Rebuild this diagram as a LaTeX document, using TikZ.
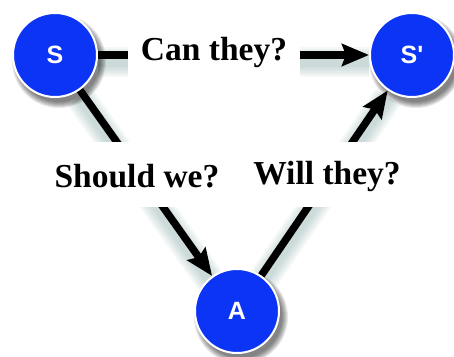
\documentclass[tikz,border=0pt]{standalone}
\usepackage{fontspec}
\setmainfont{Liberation Serif}
\newfontfamily\vertexfont{Liberation Sans}[Ligatures=ResetAll]
\usetikzlibrary{arrows.meta}
\definecolor{nodeblue}{RGB}{12,52,245}
\definecolor{shadeteal}{RGB}{110,150,148}
\pgfdeclarelayer{lineshade}
\pgfdeclarelayer{edges}
\pgfdeclarelayer{boxes}
\pgfdeclarelayer{nodeshade}
\pgfsetlayers{lineshade,edges,boxes,nodeshade,main}
\begin{document}
\begin{tikzpicture}[x=1pt,y=-1pt,
  vertex/.style={circle, fill=nodeblue, draw=white, line width=2pt,
    minimum size=84pt, inner sep=0pt, text=white,
    font=\vertexfont\bfseries\fontsize{25}{25}\selectfont},
  edge/.style={line width=7.5pt, draw=black},
  tip/.style={-{Stealth[length=27pt,width=22pt,inset=4pt]}},
  labelbox/.style={fill=white, inner sep=0pt},
  question/.style={font=\bfseries\fontsize{33.5}{38}\selectfont, text=black, inner sep=0pt},
  edgeshade/.style={line width=#1, shadeteal, opacity=0.07, transform canvas={yshift=-7pt}},
  vertexshade/.style={black, opacity=0.09}]
\useasboundingbox (0,0) rectangle (454,356);

% states
\node[vertex] (S)  at (55,55)  {S};
\node[vertex] (Sp) at (412,55) {S'};
\node[vertex] (A)  at (237,311) {A};

% soft shadows under the states
\begin{pgfonlayer}{nodeshade}
  \foreach \n in {S,Sp,A}
    \foreach \r in {47,46,45,44,43,42,41}
      \fill[vertexshade] ([shift={(4,6)}]\n.center) circle[radius=\r pt];
\end{pgfonlayer}

% transitions
\begin{pgfonlayer}{edges}
  \draw[edge, tip] (S) -- (Sp);
  \draw[edge, tip] (S) -- (A);
  \draw[edge, tip] (A) -- (Sp);
\end{pgfonlayer}

% soft shadows under the transitions
\begin{pgfonlayer}{lineshade}
  \foreach \w in {30,26,22,18,14,10}{
    \draw[edgeshade=\w pt] (S) -- (Sp);
    \draw[edgeshade=\w pt] (S) -- (A);
    \draw[edgeshade=\w pt] (A) -- (Sp);
  }
\end{pgfonlayer}

% questions
\begin{pgfonlayer}{boxes}
  \node[labelbox, minimum width=172pt, minimum height=66pt] (canbox) at (214,55) {};
  \node[question] (can) at (214,52) {Can they?};
  \node[labelbox, minimum width=380pt, minimum height=65pt] (qbox) at (230,174.5) {};
  \node[question] (should) at (137,176) {Should we?};
  \node[question] (will) at (327,176) {Will they?};
\end{pgfonlayer}
\end{tikzpicture}
\end{document}
